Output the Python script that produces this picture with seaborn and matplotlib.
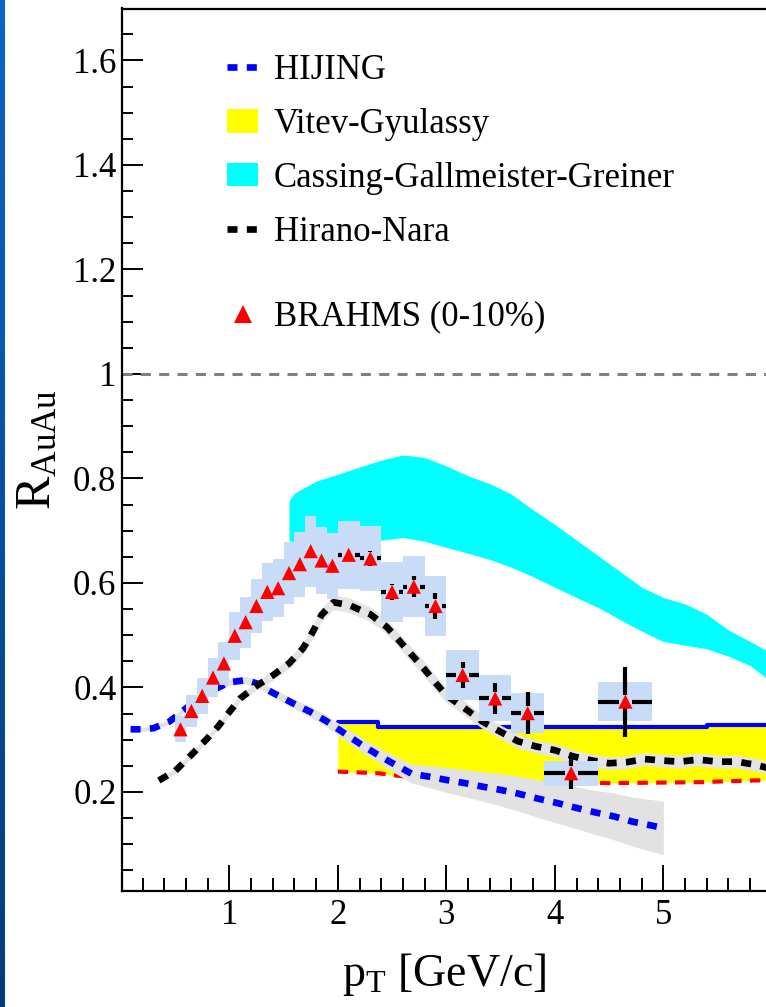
import numpy as np
import matplotlib
matplotlib.use("Agg")
import matplotlib.pyplot as plt
from matplotlib.lines import Line2D
from matplotlib.patches import Patch
from matplotlib.colors import LinearSegmentedColormap
import seaborn as sns

# ---------------- data ----------------
# BRAHMS charged hadrons, Au+Au 0-10% central
brahms_pt = [0.55, 0.65, 0.75, 0.85, 0.95, 1.05, 1.15, 1.25, 1.35, 1.45,
             1.55, 1.65, 1.75, 1.85, 1.95, 2.1, 2.3, 2.5, 2.7, 2.9,
             3.15, 3.45, 3.75, 4.15, 4.65]
brahms_r = [0.320, 0.355, 0.384, 0.419, 0.446, 0.499, 0.525, 0.556, 0.583, 0.590,
            0.619, 0.636, 0.661, 0.643, 0.633, 0.654, 0.647, 0.583, 0.593, 0.556,
            0.424, 0.379, 0.351, 0.236, 0.373]
brahms_stat = [0.006, 0.006, 0.006, 0.007, 0.007, 0.008, 0.008, 0.008, 0.009, 0.009,
               0.010, 0.010, 0.011, 0.011, 0.012, 0.012, 0.014, 0.016, 0.020, 0.025,
               0.025, 0.030, 0.040, 0.030, 0.067]
brahms_sys = [0.025, 0.030, 0.034, 0.038, 0.041, 0.046, 0.049, 0.052, 0.055, 0.056,
              0.059, 0.062, 0.068, 0.064, 0.063, 0.065, 0.062, 0.058, 0.059, 0.058,
              0.048, 0.044, 0.038, 0.024, 0.037]
brahms_bin_hw = [0.05, 0.05, 0.05, 0.05, 0.05, 0.05, 0.05, 0.05, 0.05, 0.05,
                 0.05, 0.05, 0.05, 0.05, 0.05, 0.10, 0.10, 0.10, 0.10, 0.10,
                 0.15, 0.15, 0.15, 0.25, 0.25]

# HIJING
hij_pt = [0.09, 0.2, 0.3, 0.45, 0.6, 0.8, 1.0, 1.15, 1.25, 1.4, 1.575, 1.75, 1.9,
          2.07, 2.22, 2.37, 2.53, 2.68, 2.85, 3.0, 3.17, 3.34, 3.5, 3.66, 3.83,
          4.0, 4.19, 4.37, 4.55, 4.72, 4.91, 5.0]
hij_r = [0.320, 0.320, 0.322, 0.335, 0.360, 0.390, 0.410, 0.414, 0.408, 0.390,
         0.371, 0.353, 0.335, 0.311, 0.290, 0.271, 0.252, 0.235, 0.229, 0.223,
         0.217, 0.210, 0.204, 0.197, 0.188, 0.180, 0.170, 0.161, 0.153, 0.143,
         0.135, 0.131]
hij_err = [0.004, 0.004, 0.004, 0.005, 0.005, 0.006, 0.006, 0.007, 0.007, 0.008,
           0.009, 0.010, 0.011, 0.012, 0.013, 0.014, 0.016, 0.018, 0.021, 0.024,
           0.026, 0.028, 0.031, 0.033, 0.036, 0.038, 0.040, 0.042, 0.045, 0.047,
           0.050, 0.051]

# Vitev-Gyulassy band
vg_pt = [2.0, 2.37, 2.37, 2.6, 3.0, 3.5, 4.0, 4.5, 5.0, 5.4, 5.4, 5.5, 6.0]
vg_hi = [0.333, 0.333, 0.325, 0.325, 0.325, 0.325, 0.325, 0.325, 0.325, 0.325,
         0.329, 0.329, 0.329]
vg_lo = [0.239, 0.236, 0.236, 0.230, 0.225, 0.220, 0.218, 0.217, 0.218, 0.219,
         0.219, 0.220, 0.223]

# Cassing-Gallmeister-Greiner band
cgg_pt = [1.55, 1.6, 1.8, 2.0, 2.2, 2.4, 2.6, 2.8, 3.0, 3.2, 3.4, 3.6, 3.8, 4.0,
          4.2, 4.4, 4.6, 4.8, 5.0, 5.2, 5.4, 5.6, 5.8, 6.0]
cgg_hi = [0.757, 0.772, 0.795, 0.808, 0.822, 0.835, 0.845, 0.840, 0.824, 0.805,
          0.790, 0.770, 0.740, 0.712, 0.682, 0.652, 0.622, 0.592, 0.572, 0.560,
          0.540, 0.510, 0.488, 0.465]
cgg_lo = [0.680, 0.680, 0.680, 0.680, 0.681, 0.682, 0.687, 0.680, 0.668, 0.657,
          0.645, 0.630, 0.612, 0.592, 0.572, 0.553, 0.530, 0.508, 0.488, 0.481,
          0.474, 0.460, 0.442, 0.410]

# Hirano-Nara
hn_pt = [0.35, 0.5, 0.65, 0.8, 0.9, 1.0, 1.1, 1.25, 1.4, 1.55, 1.68, 1.77, 1.85,
         1.96, 2.1, 2.3, 2.45, 2.56, 2.67, 2.79, 2.9, 3.0, 3.19, 3.33, 3.5, 3.66,
         3.83, 4.0, 4.17, 4.35, 4.5, 4.66, 4.83, 5.0, 5.15, 5.32, 5.5, 5.68, 5.85, 6.0]
hn_r = [0.222, 0.240, 0.271, 0.303, 0.326, 0.353, 0.379, 0.403, 0.423, 0.446,
        0.475, 0.507, 0.539, 0.563, 0.558, 0.540, 0.516, 0.491, 0.465, 0.437,
        0.409, 0.385, 0.357, 0.335, 0.315, 0.297, 0.287, 0.280, 0.268, 0.260,
        0.255, 0.257, 0.263, 0.260, 0.258, 0.262, 0.258, 0.258, 0.252, 0.244]
hn_err = [0.005, 0.005, 0.006, 0.006, 0.006, 0.007, 0.007, 0.008, 0.009, 0.010,
          0.011, 0.012, 0.013, 0.014, 0.014, 0.014, 0.014, 0.014, 0.014, 0.014,
          0.014, 0.014, 0.014, 0.013, 0.013, 0.013, 0.012, 0.012, 0.012, 0.012,
          0.012, 0.012, 0.012, 0.012, 0.012, 0.012, 0.012, 0.012, 0.012, 0.012]

y_ticks = [0.2, 0.4, 0.6, 0.8, 1.0, 1.2, 1.4, 1.6]
y_tick_labels = ["0.2", "0.4", "0.6", "0.8", "1", "1.2", "1.4", "1.6"]
x_ticks = [1, 2, 3, 4, 5]
x_tick_labels = ["1", "2", "3", "4", "5"]

legend_labels = ["HIJING", "Vitev-Gyulassy", "Cassing-Gallmeister-Greiner",
                 "Hirano-Nara"]
brahms_label = "BRAHMS (0-10%)"

# ---------------- style ----------------
sns.set_theme(style="ticks")
plt.rcParams.update({
    "font.family": ["Liberation Serif", "DejaVu Serif"],
    "mathtext.fontset": "custom",
    "mathtext.rm": "Liberation Serif",
    "mathtext.it": "Liberation Serif:italic",
    "mathtext.bf": "Liberation Serif:bold",
    "axes.edgecolor": "black",
    "axes.linewidth": 1.6,
    "xtick.color": "black",
    "ytick.color": "black",
    "text.color": "black",
    "axes.labelcolor": "black",
})

W, H = 766, 1007
fig = plt.figure(figsize=(W / 100, H / 100), dpi=100)
fig.patch.set_facecolor("white")

# blue strip along the left border
strip = fig.add_axes([0, 0, 5 / W, 1])
grad = np.linspace(0, 1, 256).reshape(-1, 1)
strip.imshow(grad, aspect="auto",
             cmap=LinearSegmentedColormap.from_list("edge", ["#0b64c8", "#033c7c"]))
strip.set_axis_off()

ax = fig.add_axes([122 / W, (H - 891) / H, (W - 122) / W, (891 - 8.5) / H])
ax.set_facecolor("white")
ax.set_xlim(0.011, 5.946)
ax.set_ylim(0.0105, 1.6995)
ax.spines["right"].set_visible(False)

# reference line at unity
ax.axhline(1.0, color="#808080", lw=2.2, ls=(0, (3.3, 2.7)), zorder=1.5)

dash = (0, (1.5, 1.4))

# model bands
ax.fill_between(cgg_pt, cgg_lo, cgg_hi, color="#00ffff", lw=0, zorder=1)
ax.fill_between(vg_pt, vg_lo, vg_hi, color="#ffff00", lw=0, zorder=1)
sns.lineplot(x=vg_pt, y=vg_lo, ax=ax, color="#ff0000", lw=3.0,
             linestyle=(0, (2.5, 2.0)), estimator=None, sort=False,
             legend=False, zorder=2)
sns.lineplot(x=vg_pt, y=vg_hi, ax=ax, color="#0000ff", lw=3.0,
             estimator=None, sort=False, legend=False, zorder=2)

# HIJING
hij_lo = [r - e for r, e in zip(hij_r, hij_err)]
hij_hi = [r + e for r, e in zip(hij_r, hij_err)]
ax.fill_between(hij_pt, hij_lo, hij_hi, color="#e2e2e2", lw=0, zorder=2.5)
sns.lineplot(x=hij_pt, y=hij_r, ax=ax, color="#0000ff", lw=4.8, linestyle=dash,
             estimator=None, sort=False, legend=False, zorder=3)

# Hirano-Nara
hn_lo = [r - e for r, e in zip(hn_r, hn_err)]
hn_hi = [r + e for r, e in zip(hn_r, hn_err)]
ax.fill_between(hn_pt, hn_lo, hn_hi, color="#e4e4e4", lw=0, zorder=3.2)
sns.lineplot(x=hn_pt, y=hn_r, ax=ax, color="black", lw=4.8, linestyle=dash,
             estimator=None, sort=False, legend=False, zorder=3.4)

# BRAHMS systematic boxes
ax.bar(brahms_pt, [2 * s for s in brahms_sys],
       width=[2 * w for w in brahms_bin_hw],
       bottom=[r - s for r, s in zip(brahms_r, brahms_sys)],
       color="#c8dcf8", lw=0, zorder=4)

# BRAHMS statistical errors, drawn with a gap around the marker
gap_x, gap_y = 0.06, 0.013
pt = np.array(brahms_pt)
r = np.array(brahms_r)
hw = np.array(brahms_bin_hw)
st = np.array(brahms_stat)
mx = hw > gap_x
ax.hlines(r[mx], pt[mx] - hw[mx], pt[mx] - gap_x, color="black", lw=3.0, zorder=5)
ax.hlines(r[mx], pt[mx] + gap_x, pt[mx] + hw[mx], color="black", lw=3.0, zorder=5)
my = st > gap_y
ax.vlines(pt[my], r[my] - st[my], r[my] - gap_y, color="black", lw=3.0, zorder=5)
ax.vlines(pt[my], r[my] + gap_y, r[my] + st[my], color="black", lw=3.0, zorder=5)

sns.scatterplot(x=brahms_pt, y=brahms_r, ax=ax, marker="^", s=105,
                color="#ff0000", edgecolor="none", linewidth=0,
                legend=False, zorder=6)

# ---------------- axes ----------------
ax.set_xticks(x_ticks, labels=x_tick_labels)
ax.set_xticks(np.arange(0.2, 5.95, 0.2), minor=True)
ax.set_yticks(y_ticks, labels=y_tick_labels)
ax.set_yticks(np.arange(0.05, 1.70, 0.05), minor=True)
ax.tick_params(axis="x", which="major", direction="in", length=18.5, width=1.4,
               pad=6, labelsize=25)
ax.tick_params(axis="x", which="minor", direction="in", length=9.6, width=1.4)
ax.tick_params(axis="y", which="major", direction="in", length=15, width=1.4,
               pad=4, labelsize=25)
ax.tick_params(axis="y", which="minor", direction="in", length=8.1, width=1.4)
ax.tick_params(top=False, right=False, which="both")

ax.set_xlabel(r"p$_{\mathrm{T}}$ [GeV/c]", fontsize=33)
ax.xaxis.set_label_coords(0.5, -0.068)
ax.set_ylabel(r"R$_{\mathrm{AuAu}}$", fontsize=36)
ax.yaxis.set_label_coords(-0.094, 0.5)

# ---------------- legend ----------------
handles = [
    Line2D([], [], color="#0000ff", lw=4.8, ls=dash),
    Patch(facecolor="#ffff00", edgecolor="none"),
    Patch(facecolor="#00ffff", edgecolor="none"),
    Line2D([], [], color="black", lw=4.8, ls=dash),
]
leg_kw = dict(loc="upper left", frameon=False, fontsize=25, handlelength=0.9,
              handleheight=0.65, handletextpad=0.45, labelspacing=0.60,
              borderpad=0, borderaxespad=0)
leg1 = ax.legend(handles, legend_labels, bbox_to_anchor=(0.163, 0.948), **leg_kw)
ax.add_artist(leg1)
ax.legend([Line2D([], [], ls="none", marker="^", color="#ff0000",
                  markersize=13, mew=0)],
          [brahms_label], bbox_to_anchor=(0.163, 0.669), **leg_kw)

fig.savefig("out.png", dpi=100, facecolor="white")
